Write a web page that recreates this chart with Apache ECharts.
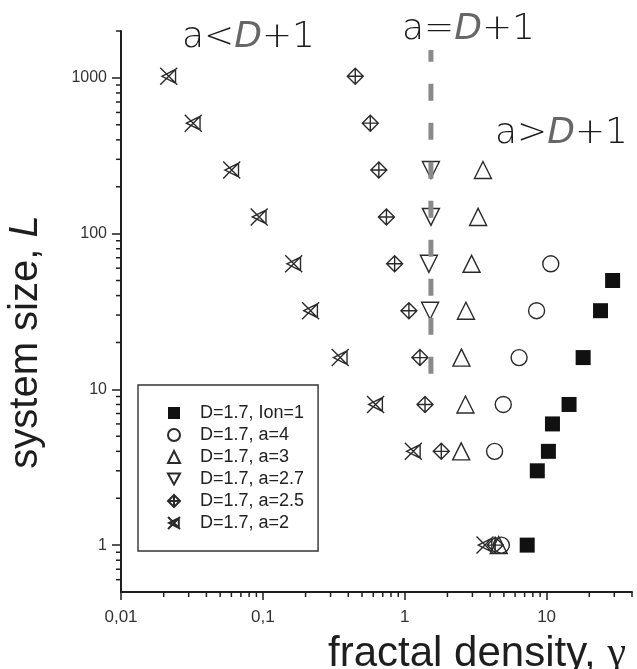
<!DOCTYPE html>
<html>
<head>
<meta charset="utf-8">
<script src="https://cdn.jsdelivr.net/npm/echarts@6/dist/echarts.min.js"></script>
<style>
  html, body { margin: 0; padding: 0; background: #fff; }
  #chart { width: 637px; height: 669px; }
</style>
</head>
<body>
<div id="chart"></div>
<script>
// fractal density gamma (x) vs system size L (y), one pair of arrays per run
const sizesIon = [1, 3, 4, 6, 8, 16, 32, 50]
const gammaIon = [7.3, 8.6, 10.3, 11.0, 14.4, 18.1, 24.0, 29.2]

const sizesA4 = [1, 4, 8, 16, 32, 64]
const gammaA4 = [4.8, 4.3, 4.95, 6.4, 8.5, 10.7]

const sizesA3 = [1, 4, 8, 16, 32, 64, 128, 256]
const gammaA3 = [4.6, 2.5, 2.68, 2.51, 2.7, 2.96, 3.29, 3.56]

const sizesA27 = [32, 64, 128, 256]
const gammaA27 = [1.51, 1.48, 1.53, 1.53]

const sizesA25 = [1, 4, 8, 16, 32, 64, 128, 256, 512, 1024]
const gammaA25 = [4.34, 1.81, 1.39, 1.28, 1.07, 0.849, 0.743, 0.657, 0.572, 0.448]

const sizesA2 = [1, 4, 8, 16, 32, 64, 128, 256, 512, 1024]
const gammaA2 = [3.68, 1.15, 0.623, 0.351, 0.217, 0.165, 0.0942, 0.0603, 0.0323, 0.0217]

// a = D + 1 boundary (dashed line)
const boundaryGamma = [1.53, 1.53]
const boundarySize = [12.6, 1510]

// tick labels (decimal comma)
const xTickValues = [0.01, 0.1, 1, 10]
const xTickLabels = ['0,01', '0,1', '1', '10']
const yTickValues = [1, 10, 100, 1000]
const yTickLabels = ['1', '10', '100', '1000']

// log minor ticks
const xMinorTicks = [0.02, 0.03, 0.04, 0.05, 0.06, 0.07, 0.08, 0.09,
  0.2, 0.3, 0.4, 0.5, 0.6, 0.7, 0.8, 0.9,
  2, 3, 4, 5, 6, 7, 8, 9, 20, 30, 40]
const yMinorTicks = [0.6, 0.7, 0.8, 0.9, 2, 3, 4, 5, 6, 7, 8, 9,
  20, 30, 40, 50, 60, 70, 80, 90, 200, 300, 400, 500, 600, 700, 800, 900, 2000]

const X_MIN = 0.01, X_MAX = 40
const Y_MIN = 0.5, Y_MAX = 2000

const INK = '#1e1e1e'
const pairs = (xs, ys) => xs.map((x, i) => [x, ys[i]])

function tickLabel (values, labels) {
  return v => {
    const i = values.findIndex(t => Math.abs(Math.log10(t) - Math.log10(v)) < 1e-6)
    return i >= 0 ? labels[i] : ''
  }
}

// minor ticks drawn through the axes' own log scale
function minorTicks (values, dir) {
  return {
    type: 'custom',
    silent: true,
    clip: false,
    z: 5,
    data: dir === 'x' ? values.map(v => [v, Y_MIN]) : values.map(v => [X_MIN, v]),
    renderItem (params, api) {
      const p = api.coord([api.value(0), api.value(1)])
      const shape = dir === 'x'
        ? { x1: p[0], y1: p[1], x2: p[0], y2: p[1] + 5 }
        : { x1: p[0] - 5, y1: p[1], x2: p[0], y2: p[1] }
      return { type: 'line', shape, style: { stroke: INK, lineWidth: 1.5 } }
    }
  }
}

const hollow = { color: 'transparent', borderColor: '#2a2a2a', borderWidth: 1.4, opacity: 1 }

function scatter (name, xs, ys, symbol, size, itemStyle) {
  return {
    name,
    type: 'scatter',
    data: pairs(xs, ys),
    symbol,
    symbolSize: size,
    itemStyle,
    z: 3
  }
}

const chart = echarts.init(document.getElementById('chart'))

// a<D+1 style annotations: thin upright text, oblique D
const annoStyle = {
  fontFamily: 'DejaVu Sans',
  fontWeight: 200,
  fontSize: 36,
  fill: '#1a1a1a',
  verticalAlign: 'middle',
  rich: { i: { fontFamily: 'DejaVu Sans', fontWeight: 'normal', fontStyle: 'italic', fontSize: 36, fill: '#666' } }
}

const option = {
  animation: false,
  backgroundColor: '#fff',
  grid: { left: 121, right: 5, top: 31, bottom: 77, outerBoundsMode: 'none', containLabel: false },
  xAxis: {
    type: 'log',
    logBase: 10,
    min: X_MIN,
    max: X_MAX,
    name: 'fractal density, {g|γ}',
    nameLocation: 'middle',
    nameGap: 41,
    nameTextStyle: {
      fontFamily: 'Liberation Sans',
      fontSize: 42,
      color: INK,
      padding: [0, 0, 0, 201],
      rich: { g: { fontFamily: 'Liberation Serif', fontSize: 42, color: INK } }
    },
    axisLine: { lineStyle: { color: INK, width: 2 } },
    axisTick: { length: 8, lineStyle: { color: INK, width: 1.5 } },
    splitLine: { show: false },
    axisLabel: {
      showMinLabel: true,
      showMaxLabel: false,
      margin: 17,
      fontFamily: 'Liberation Sans',
      fontSize: 17,
      color: '#333',
      formatter: tickLabel(xTickValues, xTickLabels)
    }
  },
  yAxis: {
    type: 'log',
    logBase: 10,
    min: Y_MIN,
    max: Y_MAX,
    name: 'system size, {i|L}',
    nameLocation: 'middle',
    nameRotate: 90,
    nameGap: 75,
    nameTextStyle: {
      fontFamily: 'Liberation Sans',
      fontSize: 40,
      color: INK,
      padding: [0, 61, 0, 0],
      rich: { i: { fontFamily: 'Liberation Sans', fontStyle: 'italic', fontSize: 40, color: INK } }
    },
    axisLine: { lineStyle: { color: INK, width: 2 } },
    axisTick: { length: 9, lineStyle: { color: INK, width: 1.5 } },
    splitLine: { show: false },
    axisLabel: {
      showMinLabel: false,
      showMaxLabel: false,
      margin: 14,
      fontFamily: 'Liberation Sans',
      fontSize: 16,
      color: '#333',
      formatter: tickLabel(yTickValues, yTickLabels)
    }
  },
  legend: {
    orient: 'vertical',
    left: 138,
    top: 385,
    data: ['D=1.7, Ion=1', 'D=1.7, a=4', 'D=1.7, a=3', 'D=1.7, a=2.7', 'D=1.7, a=2.5', 'D=1.7, a=2'],
    borderColor: '#333',
    borderWidth: 1.4,
    padding: [19, 14, 19, 29],
    itemWidth: 12,
    itemHeight: 12,
    itemGap: 4,
    selectedMode: false,
    textStyle: {
      fontFamily: 'Liberation Sans',
      fontSize: 18,
      lineHeight: 18,
      color: '#222',
      padding: [0, 0, 0, 15]
    }
  },
  graphic: [
    { type: 'text', x: 182, y: 38, style: Object.assign({ text: 'a<{i|D}+1' }, annoStyle) },
    { type: 'text', x: 402, y: 30, style: Object.assign({ text: 'a={i|D}+1' }, annoStyle) },
    { type: 'text', x: 495, y: 134, style: Object.assign({ text: 'a>{i|D}+1' }, annoStyle) }
  ],
  series: [
    {
      name: 'boundary',
      type: 'line',
      data: pairs(boundaryGamma, boundarySize),
      symbol: 'none',
      silent: true,
      z: 4,
      lineStyle: { color: '#8a8a8a', width: 5, type: [17, 22] }
    },
    scatter('D=1.7, Ion=1', gammaIon, sizesIon, 'rect', 15, { color: '#111', opacity: 1 }),
    scatter('D=1.7, a=4', gammaA4, sizesA4, 'circle', 16, hollow),
    scatter('D=1.7, a=3', gammaA3, sizesA3, 'triangle', 17, hollow),
    scatter('D=1.7, a=2.7', gammaA27, sizesA27, 'path://M0,0L20,0L10,18Z', 17, hollow),
    scatter('D=1.7, a=2.5', gammaA25, sizesA25,
      'path://M10,0L20,10L10,20L0,10Z M10,0L10,20 M0,10L20,10', 16, hollow),
    scatter('D=1.7, a=2', gammaA2, sizesA2,
      'path://M0,0L20,20 M0,20L20,0 M2,10L18,2L18,18Z', 17, hollow),
    minorTicks(xMinorTicks, 'x'),
    minorTicks(yMinorTicks, 'y')
  ]
}

chart.setOption(option)
window.addEventListener('resize', () => chart.resize())
</script>
</body>
</html>
